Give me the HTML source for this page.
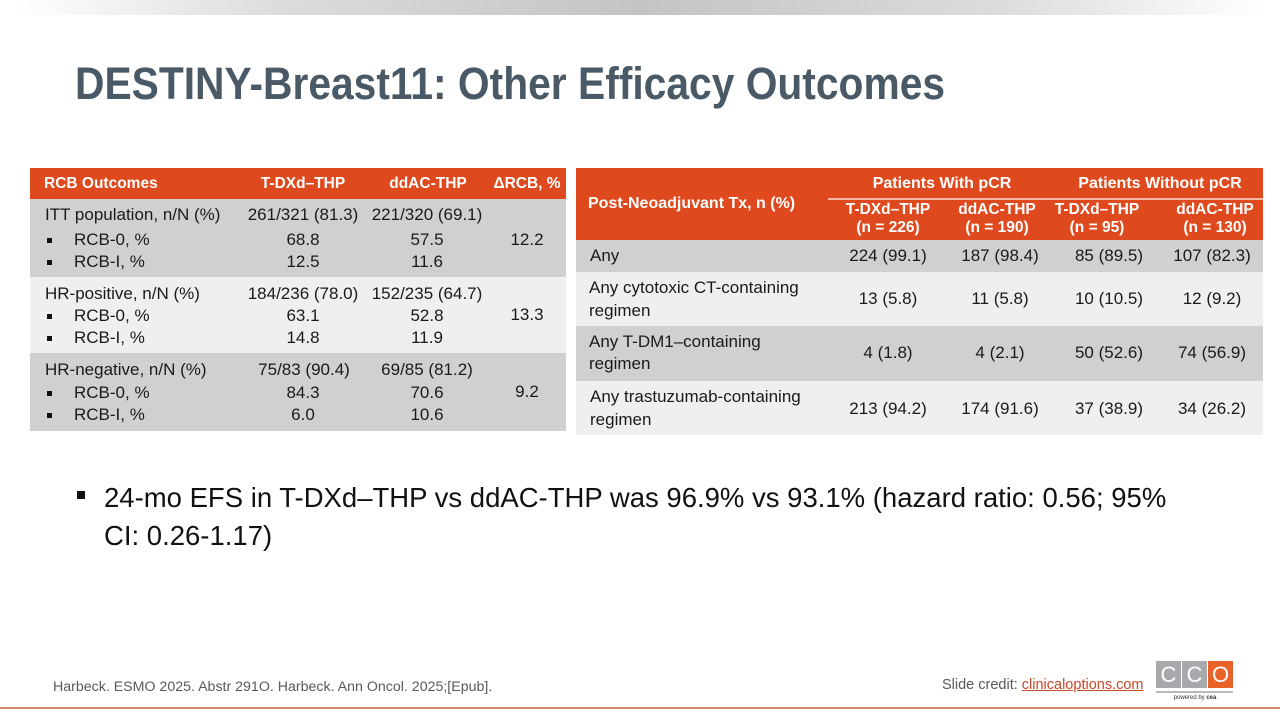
<!DOCTYPE html>
<html>
<head>
<meta charset="utf-8">
<style>
  html, body { margin:0; padding:0; }
  body { width:1280px; height:720px; position:relative; overflow:hidden; background:#fff;
         font-family:"Liberation Sans", Arial, sans-serif; }
  .abs { position:absolute; white-space:nowrap; }
  .topbar { position:absolute; left:0; top:0; width:1280px; height:15px;
            background:linear-gradient(90deg,#ffffff 1%,#dcdcdc 22%,#c4c4c4 50%,#dcdcdc 78%,#ffffff 99%); }
  .title { position:absolute; left:75px; top:61px; font-size:45px; line-height:45px; font-weight:bold; color:#4a5966; white-space:nowrap; transform:scaleX(0.906); transform-origin:0 0; }
  .bg { position:absolute; }
  .or { background:#de4a1e; }
  .gr { background:#d0d0d0; }
  .lt { background:#efefef; }
  .h { color:#fff; font-weight:bold; font-size:15.5px; line-height:20px; }
  .t { color:#1a1a1a; font-size:17px; line-height:20px; }
  .c { transform:translateX(-50%); text-align:center; }
  .sq { position:absolute; width:5px; height:5px; background:#111; }
</style>
</head>
<body>
<div class="topbar"></div>
<div class="title">DESTINY-Breast11: Other Efficacy Outcomes</div>

<!-- LEFT TABLE -->
<div class="bg or" style="left:30px;top:168px;width:536px;height:31px;"></div>
<div class="bg gr" style="left:30px;top:199px;width:536px;height:78px;"></div>
<div class="bg lt" style="left:30px;top:277px;width:536px;height:76px;"></div>
<div class="bg gr" style="left:30px;top:353px;width:536px;height:78px;"></div>

<div class="abs h" style="left:44px;top:174px;">RCB Outcomes</div>
<div class="abs h c" style="left:303px;top:174px;">T-DXd–THP</div>
<div class="abs h c" style="left:428px;top:174px;">ddAC-THP</div>
<div class="abs h c" style="left:527px;top:174px;">ΔRCB, %</div>

<!-- group 1 -->
<div class="abs t" style="left:45px;top:205px;">ITT population, n/N (%)</div>
<div class="abs t c" style="left:303px;top:205px;">261/321 (81.3)</div>
<div class="abs t c" style="left:427px;top:205px;">221/320 (69.1)</div>
<div class="sq" style="left:47px;top:238px;"></div>
<div class="abs t" style="left:74px;top:230px;">RCB-0, %</div>
<div class="abs t c" style="left:303px;top:230px;">68.8</div>
<div class="abs t c" style="left:427px;top:230px;">57.5</div>
<div class="abs t c" style="left:527px;top:230px;">12.2</div>
<div class="sq" style="left:47px;top:260px;"></div>
<div class="abs t" style="left:74px;top:252px;">RCB-I, %</div>
<div class="abs t c" style="left:303px;top:252px;">12.5</div>
<div class="abs t c" style="left:427px;top:252px;">11.6</div>

<!-- group 2 -->
<div class="abs t" style="left:45px;top:284px;">HR-positive, n/N (%)</div>
<div class="abs t c" style="left:303px;top:284px;">184/236 (78.0)</div>
<div class="abs t c" style="left:427px;top:284px;">152/235 (64.7)</div>
<div class="sq" style="left:47px;top:314px;"></div>
<div class="abs t" style="left:74px;top:306px;">RCB-0, %</div>
<div class="abs t c" style="left:303px;top:306px;">63.1</div>
<div class="abs t c" style="left:427px;top:306px;">52.8</div>
<div class="abs t c" style="left:527px;top:305px;">13.3</div>
<div class="sq" style="left:47px;top:336px;"></div>
<div class="abs t" style="left:74px;top:328px;">RCB-I, %</div>
<div class="abs t c" style="left:303px;top:328px;">14.8</div>
<div class="abs t c" style="left:427px;top:328px;">11.9</div>

<!-- group 3 -->
<div class="abs t" style="left:45px;top:360px;">HR-negative, n/N (%)</div>
<div class="abs t c" style="left:304px;top:360px;">75/83 (90.4)</div>
<div class="abs t c" style="left:427px;top:360px;">69/85 (81.2)</div>
<div class="sq" style="left:47px;top:391px;"></div>
<div class="abs t" style="left:74px;top:383px;">RCB-0, %</div>
<div class="abs t c" style="left:303px;top:383px;">84.3</div>
<div class="abs t c" style="left:427px;top:383px;">70.6</div>
<div class="abs t c" style="left:527px;top:382px;">9.2</div>
<div class="sq" style="left:47px;top:413px;"></div>
<div class="abs t" style="left:74px;top:405px;">RCB-I, %</div>
<div class="abs t c" style="left:303px;top:405px;">6.0</div>
<div class="abs t c" style="left:427px;top:405px;">10.6</div>

<!-- RIGHT TABLE -->
<div class="bg or" style="left:576px;top:168px;width:687px;height:72px;"></div>
<div class="bg gr" style="left:576px;top:240px;width:687px;height:32px;"></div>
<div class="bg lt" style="left:576px;top:272px;width:687px;height:54px;"></div>
<div class="bg gr" style="left:576px;top:326px;width:687px;height:55px;"></div>
<div class="bg lt" style="left:576px;top:381px;width:687px;height:54px;"></div>
<div class="bg" style="left:828px;top:198px;width:435px;height:2px;background:#f3b9a4;"></div>

<div class="abs h" style="left:588px;top:194px;font-size:16px;">Post-Neoadjuvant Tx, n (%)</div>
<div class="abs h c" style="left:942px;top:174px;font-size:16px;">Patients With pCR</div>
<div class="abs h c" style="left:1160px;top:174px;font-size:16px;">Patients Without pCR</div>

<div class="abs h c" style="left:888px;top:200px;">T-DXd–THP</div>
<div class="abs h c" style="left:888px;top:218px;">(n = 226)</div>
<div class="abs h c" style="left:997px;top:200px;">ddAC-THP</div>
<div class="abs h c" style="left:997px;top:218px;">(n = 190)</div>
<div class="abs h c" style="left:1097px;top:200px;">T-DXd–THP</div>
<div class="abs h c" style="left:1097px;top:218px;">(n = 95)</div>
<div class="abs h c" style="left:1215px;top:200px;">ddAC-THP</div>
<div class="abs h c" style="left:1215px;top:218px;">(n = 130)</div>

<div class="abs t" style="left:590px;top:246px;">Any</div>
<div class="abs t c" style="left:888px;top:246px;">224 (99.1)</div>
<div class="abs t c" style="left:1000px;top:246px;">187 (98.4)</div>
<div class="abs t c" style="left:1109px;top:246px;">85 (89.5)</div>
<div class="abs t c" style="left:1212px;top:246px;">107 (82.3)</div>

<div class="abs t" style="left:589px;top:278px;">Any cytotoxic CT-containing</div>
<div class="abs t" style="left:589px;top:301px;">regimen</div>
<div class="abs t c" style="left:888px;top:289px;">13 (5.8)</div>
<div class="abs t c" style="left:1000px;top:289px;">11 (5.8)</div>
<div class="abs t c" style="left:1109px;top:289px;">10 (10.5)</div>
<div class="abs t c" style="left:1212px;top:289px;">12 (9.2)</div>

<div class="abs t" style="left:589px;top:332px;">Any T-DM1–containing</div>
<div class="abs t" style="left:589px;top:354px;">regimen</div>
<div class="abs t c" style="left:888px;top:343px;">4 (1.8)</div>
<div class="abs t c" style="left:1000px;top:343px;">4 (2.1)</div>
<div class="abs t c" style="left:1109px;top:343px;">50 (52.6)</div>
<div class="abs t c" style="left:1212px;top:343px;">74 (56.9)</div>

<div class="abs t" style="left:590px;top:387px;">Any trastuzumab-containing</div>
<div class="abs t" style="left:590px;top:410px;">regimen</div>
<div class="abs t c" style="left:888px;top:399px;">213 (94.2)</div>
<div class="abs t c" style="left:1000px;top:399px;">174 (91.6)</div>
<div class="abs t c" style="left:1109px;top:399px;">37 (38.9)</div>
<div class="abs t c" style="left:1212px;top:399px;">34 (26.2)</div>

<!-- BULLET -->
<div class="sq" style="left:77px;top:491px;width:8px;height:8px;"></div>
<div class="abs" style="left:104px;top:479px;font-size:27.5px;line-height:38px;color:#111;">24-mo EFS in T-DXd–THP vs ddAC-THP was 96.9% vs 93.1% (hazard ratio: 0.56; 95%<br>CI: 0.26-1.17)</div>

<!-- FOOTER -->
<div class="abs" style="left:53px;top:678px;font-size:14.2px;line-height:18px;color:#595959;">Harbeck. ESMO 2025. Abstr 291O. Harbeck. Ann Oncol. 2025;[Epub].</div>
<div class="abs" style="left:942px;top:676px;font-size:14.5px;line-height:18px;color:#595959;">Slide credit: <span style="color:#c8482a;text-decoration:underline;">clinicaloptions.com</span></div>

<!-- CCO logo -->
<div class="bg" style="left:1156px;top:661px;width:25px;height:27px;background:#a7a9ac;"></div>
<div class="bg" style="left:1182px;top:661px;width:25px;height:27px;background:#a7a9ac;"></div>
<div class="bg" style="left:1208px;top:661px;width:25px;height:27px;background:#e8622a;"></div>
<div class="abs" style="left:1156px;top:662px;width:25px;text-align:center;font-size:22px;line-height:26px;color:#fff;">C</div>
<div class="abs" style="left:1182px;top:662px;width:25px;text-align:center;font-size:22px;line-height:26px;color:#fff;">C</div>
<div class="abs" style="left:1208px;top:662px;width:25px;text-align:center;font-size:22px;line-height:26px;color:#fff;">O</div>
<div class="bg" style="left:1156px;top:691px;width:77px;height:2px;background:#b8b8b8;"></div>
<div class="abs c" style="left:1195px;top:695px;font-size:6px;line-height:7px;color:#333;">powered by <b>cea</b></div>

<div class="bg" style="left:0;top:707px;width:1280px;height:2px;background:#d98c6c;"></div>
</body>
</html>
